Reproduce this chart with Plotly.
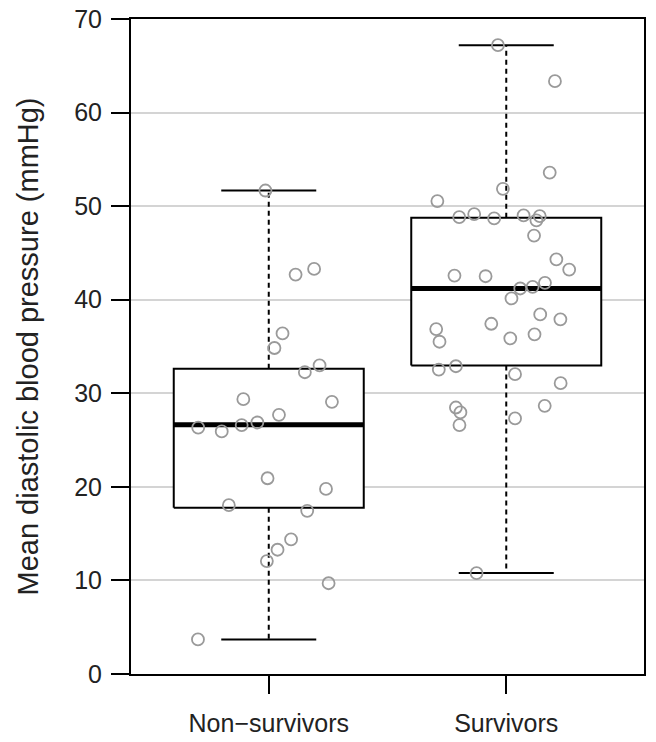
import plotly.graph_objects as go

# ---- data ----
groups = ["Non−survivors", "Survivors"]
group_pos = [1, 2]

ns_vals = [51.67, 42.69, 43.29, 36.4, 34.84, 32.99, 32.25, 29.37, 29.09, 27.70, 26.88, 26.6,
           26.32, 25.92, 20.92, 19.78, 18.04, 17.44, 14.38, 13.28, 12.07, 9.70, 3.69]
ns_jitter = [-0.014, 0.113, 0.191, 0.058, 0.024, 0.214, 0.152, -0.107, 0.266, 0.043, -0.048, -0.114,
             -0.297, -0.198, -0.005, 0.241, -0.168, 0.162, 0.094, 0.037, -0.008, 0.252, -0.298]

s_vals = [67.2, 63.36, 53.59, 51.85, 50.54, 48.83, 49.15, 48.69, 49.01, 48.94, 48.48, 46.85,
          44.32, 43.22, 42.58, 42.51, 41.8, 41.2, 41.38, 40.14, 38.43, 37.9, 37.43, 36.86,
          35.51, 35.87, 36.3, 32.53, 32.89, 32.04, 31.08, 28.48, 27.95, 28.66, 26.6, 27.31, 10.79]
s_jitter = [-0.035, 0.205, 0.183, -0.014, -0.290, -0.198, -0.135, -0.051, 0.073, 0.141, 0.127, 0.117,
            0.211, 0.265, -0.218, -0.087, 0.163, 0.059, 0.111, 0.022, 0.143, 0.228, -0.063, -0.295,
            -0.281, 0.017, 0.119, -0.284, -0.212, 0.037, 0.229, -0.212, -0.193, 0.162, -0.197, 0.037, -0.125]

q1 = [17.76, 32.96]
median = [26.64, 41.2]
q3 = [32.63, 48.76]
whisk_lo = [3.69, 10.79]
whisk_hi = [51.67, 67.2]

y_ticks = [0, 10, 20, 30, 40, 50, 60, 70]
y_title = "Mean diastolic blood pressure (mmHg)"

# ---- styles ----
BOX_HALF = 0.4
CAP_HALF = 0.2
FONT = "Liberation Sans, Arial, sans-serif"
TXT = "#222222"

fig = go.Figure()

for i, c in enumerate(group_pos):
    # box (white fill hides gridlines)
    fig.add_trace(go.Scatter(
        x=[c - BOX_HALF, c + BOX_HALF, c + BOX_HALF, c - BOX_HALF, c - BOX_HALF],
        y=[q1[i], q1[i], q3[i], q3[i], q1[i]],
        mode="lines", fill="toself", fillcolor="white",
        line=dict(color="black", width=2), hoverinfo="skip", showlegend=False))
    # whiskers (dashed)
    for a, b in [(q3[i], whisk_hi[i]), (q1[i], whisk_lo[i])]:
        fig.add_trace(go.Scatter(
            x=[c, c], y=[a, b], mode="lines",
            line=dict(color="black", width=2, dash="5px,4px"),
            hoverinfo="skip", showlegend=False))
    # caps
    for v in [whisk_hi[i], whisk_lo[i]]:
        fig.add_trace(go.Scatter(
            x=[c - CAP_HALF, c + CAP_HALF], y=[v, v], mode="lines",
            line=dict(color="black", width=2), hoverinfo="skip", showlegend=False))
    # median
    fig.add_trace(go.Scatter(
        x=[c - BOX_HALF, c + BOX_HALF], y=[median[i], median[i]], mode="lines",
        line=dict(color="black", width=5), hoverinfo="skip", showlegend=False))

# jittered points
for c, vals, jit in [(group_pos[0], ns_vals, ns_jitter), (group_pos[1], s_vals, s_jitter)]:
    fig.add_trace(go.Scatter(
        x=[c + j for j in jit], y=vals, mode="markers",
        marker=dict(symbol="circle-open", size=12, color="#9a9a9a", line=dict(width=1.8)),
        showlegend=False))

fig.update_layout(
    width=656, height=742,
    margin=dict(l=131, r=12, t=19, b=68, autoexpand=False),
    plot_bgcolor="white", paper_bgcolor="white",
    font=dict(family=FONT, size=25, color=TXT),
    showlegend=False,
)
fig.update_xaxes(
    range=[0.42, 2.58], tickmode="array", tickvals=group_pos, ticktext=groups,
    ticks="outside", ticklen=18, tickwidth=1.5, tickcolor="black",
    showline=True, mirror=True, linecolor="black", linewidth=2,
    showgrid=False, zeroline=False, ticklabelstandoff=8, automargin=False,
    tickfont=dict(family=FONT, size=25, color=TXT),
)
fig.update_yaxes(
    range=[0, 70], tickmode="array", tickvals=y_ticks,
    ticks="outside", ticklen=18, tickwidth=1.5, tickcolor="black",
    showline=True, mirror=True, linecolor="black", linewidth=2,
    showgrid=True, gridcolor="#d4d4d4", gridwidth=1.5, zeroline=False,
    ticklabelstandoff=4, automargin=False,
    tickfont=dict(family=FONT, size=25, color=TXT),
)
fig.add_annotation(
    text=y_title, textangle=-90, xref="paper", yref="paper",
    x=(27 - 131) / 513, y=0.5, xanchor="center", yanchor="middle",
    showarrow=False, font=dict(family=FONT, size=29, color=TXT))

# remove the default 8px page margin so the figure sits at the window's corner
fig.write_html("out.html",
               config={"displayModeBar": False},
               post_script="document.body.style.margin='0';document.body.style.overflow='hidden';")
